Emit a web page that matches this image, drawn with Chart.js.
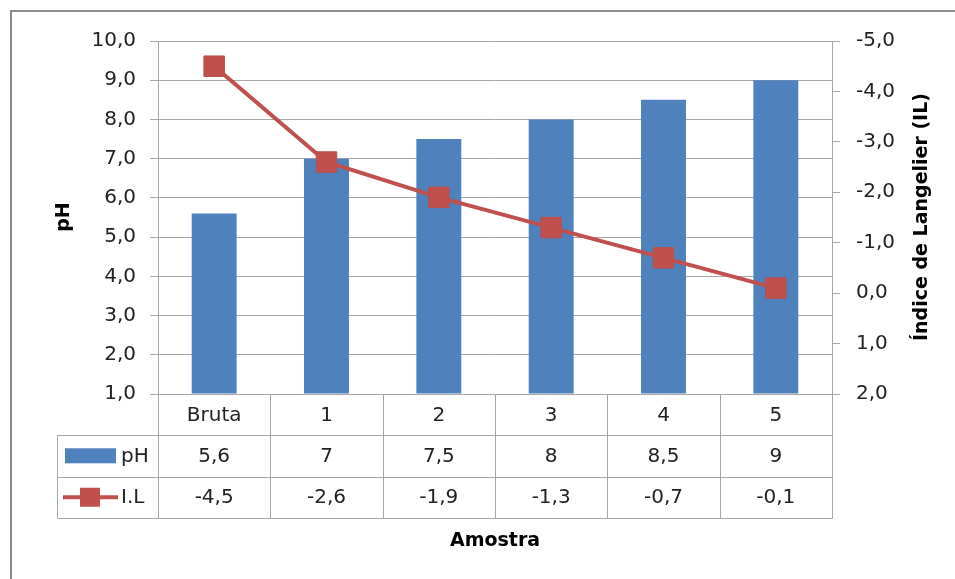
<!DOCTYPE html>
<html>
<head>
<meta charset="utf-8">
<script src="https://cdn.jsdelivr.net/npm/chart.js@4/dist/chart.umd.min.js"></script>
<style>
  html, body { margin: 0; padding: 0; background: #ffffff; }
  #wrap { position: relative; width: 955px; height: 579px; }
  canvas { display: block; }
</style>
</head>
<body>
<div id="wrap"><canvas id="c" width="955" height="579"></canvas></div>
<script>
// Amostras e medições
const categories = ['Bruta', '1', '2', '3', '4', '5'];
const phValues = [5.6, 7, 7.5, 8, 8.5, 9];
const ilValues = [-4.5, -2.6, -1.9, -1.3, -0.7, -0.1];
const phTableLabels = ['5,6', '7', '7,5', '8', '8,5', '9'];
const ilTableLabels = ['-4,5', '-2,6', '-1,9', '-1,3', '-0,7', '-0,1'];

const BLUE = '#4F81BD';
const RED = '#C0504D';
const GRID = '#A6A6A6';
const FONT = '"DejaVu Sans", "Liberation Sans", sans-serif';
const TXT = '#222222';

const fmt = v => v.toFixed(1).replace('.', ',');

// Tabela de dados, títulos e moldura desenhados abaixo do gráfico
const tablePlugin = {
  id: 'dataTable',
  afterDraw(chart) {
    const ctx = chart.ctx;
    const x = chart.scales.x;
    const area = chart.chartArea;
    const left = area.left, right = area.right;
    const rowTop = area.bottom;
    const rowH = 41.3;
    const r1 = rowTop + rowH, r2 = rowTop + 2 * rowH, r3 = rowTop + 3 * rowH;
    const tableLeft = 57;
    const n = categories.length;
    const colW = (right - left) / n;

    ctx.save();
    ctx.strokeStyle = GRID;
    ctx.lineWidth = 1;
    const line = (x1, y1, x2, y2) => {
      ctx.beginPath();
      ctx.moveTo(Math.round(x1) + 0.5, Math.round(y1) + 0.5);
      ctx.lineTo(Math.round(x2) + 0.5, Math.round(y2) + 0.5);
      ctx.stroke();
    };
    // horizontal rules
    line(tableLeft, r1, right, r1);
    line(tableLeft, r2, right, r2);
    line(tableLeft, r3, right, r3);
    // vertical rules
    line(tableLeft, r1, tableLeft, r3);
    for (let i = 0; i <= n; i++) {
      const xx = left + colW * i;
      line(xx, rowTop, xx, r3);
    }

    // cell texts
    ctx.fillStyle = TXT;
    ctx.font = '20px ' + FONT;
    ctx.textAlign = 'center';
    ctx.textBaseline = 'middle';
    categories.forEach((c, i) => {
      const cx = x.getPixelForValue(i);
      ctx.fillText(c, cx, rowTop + rowH / 2 + 1);
      ctx.fillText(phTableLabels[i], cx, r1 + rowH / 2 + 1);
      ctx.fillText(ilTableLabels[i], cx, r2 + rowH / 2 + 1);
    });

    // legend keys
    ctx.fillStyle = BLUE;
    ctx.fillRect(65, r1 + 13, 51, 15);
    ctx.strokeStyle = RED;
    ctx.lineWidth = 4;
    ctx.beginPath();
    ctx.moveTo(63, r2 + rowH / 2);
    ctx.lineTo(118, r2 + rowH / 2);
    ctx.stroke();
    ctx.fillStyle = RED;
    ctx.fillRect(80, r2 + rowH / 2 - 9.5, 20, 19);
    ctx.fillStyle = TXT;
    ctx.textAlign = 'left';
    ctx.fillText('pH', 121, r1 + rowH / 2 + 1);
    ctx.fillText('I.L', 121, r2 + rowH / 2 + 1);

    // axis titles
    ctx.font = 'bold 19px ' + FONT;
    ctx.fillStyle = '#000000';
    ctx.textAlign = 'center';
    ctx.fillText('Amostra', 495, 541);

    ctx.save();
    ctx.translate(64, 217);
    ctx.rotate(-Math.PI / 2);
    ctx.fillText('pH', 0, 0);
    ctx.restore();

    ctx.save();
    ctx.translate(922, 217);
    ctx.rotate(-Math.PI / 2);
    ctx.fillText('Índice de Langelier (IL)', 0, 0);
    ctx.restore();

    // outer frame
    ctx.strokeStyle = '#8C8C8C';
    ctx.lineWidth = 2;
    ctx.strokeRect(11, 11, 960, 600);
    ctx.restore();
  }
};

new Chart(document.getElementById('c'), {
  data: {
    labels: categories,
    datasets: [
      {
        type: 'line',
        label: 'I.L',
        data: ilValues,
        yAxisID: 'y1',
        order: 0,
        borderColor: RED,
        borderWidth: 4,
        backgroundColor: RED,
        pointStyle: 'rect',
        pointRadius: 14.5,
        pointBorderWidth: 1,
        pointBorderColor: '#B9504D',
        pointBackgroundColor: RED,
        tension: 0
      },
      {
        type: 'bar',
        label: 'pH',
        data: phValues,
        yAxisID: 'y',
        order: 1,
        backgroundColor: BLUE,
        borderWidth: 0,
        barPercentage: 0.4,
        categoryPercentage: 1,
        base: 1
      }
    ]
  },
  options: {
    responsive: false,
    animation: false,
    devicePixelRatio: 1,
    layout: { padding: { left: 0, right: 0, top: 41, bottom: 185 } },
    plugins: {
      legend: { display: false },
      tooltip: { enabled: false },
      title: { display: false }
    },
    scales: {
      x: {
        type: 'category',
        display: false,
        offset: true
      },
      y: {
        position: 'left',
        min: 1,
        max: 10,
        afterFit: s => { s.width = 158; },
        border: { display: true, color: GRID, width: 1 },
        grid: { color: GRID, lineWidth: 1, tickLength: 8, drawTicks: true },
        ticks: {
          stepSize: 1,
          padding: 14,
          color: TXT,
          font: { family: FONT, size: 20 },
          callback: v => fmt(v)
        }
      },
      y1: {
        position: 'right',
        reverse: true,
        min: -5,
        max: 2,
        afterFit: s => { s.width = 123; },
        border: { display: true, color: GRID, width: 1 },
        grid: { drawOnChartArea: false, color: GRID, tickLength: 8, drawTicks: true },
        ticks: {
          stepSize: 1,
          padding: 16,
          color: TXT,
          font: { family: FONT, size: 20 },
          callback: v => fmt(v)
        }
      }
    }
  },
  plugins: [tablePlugin]
});
</script>
</body>
</html>
